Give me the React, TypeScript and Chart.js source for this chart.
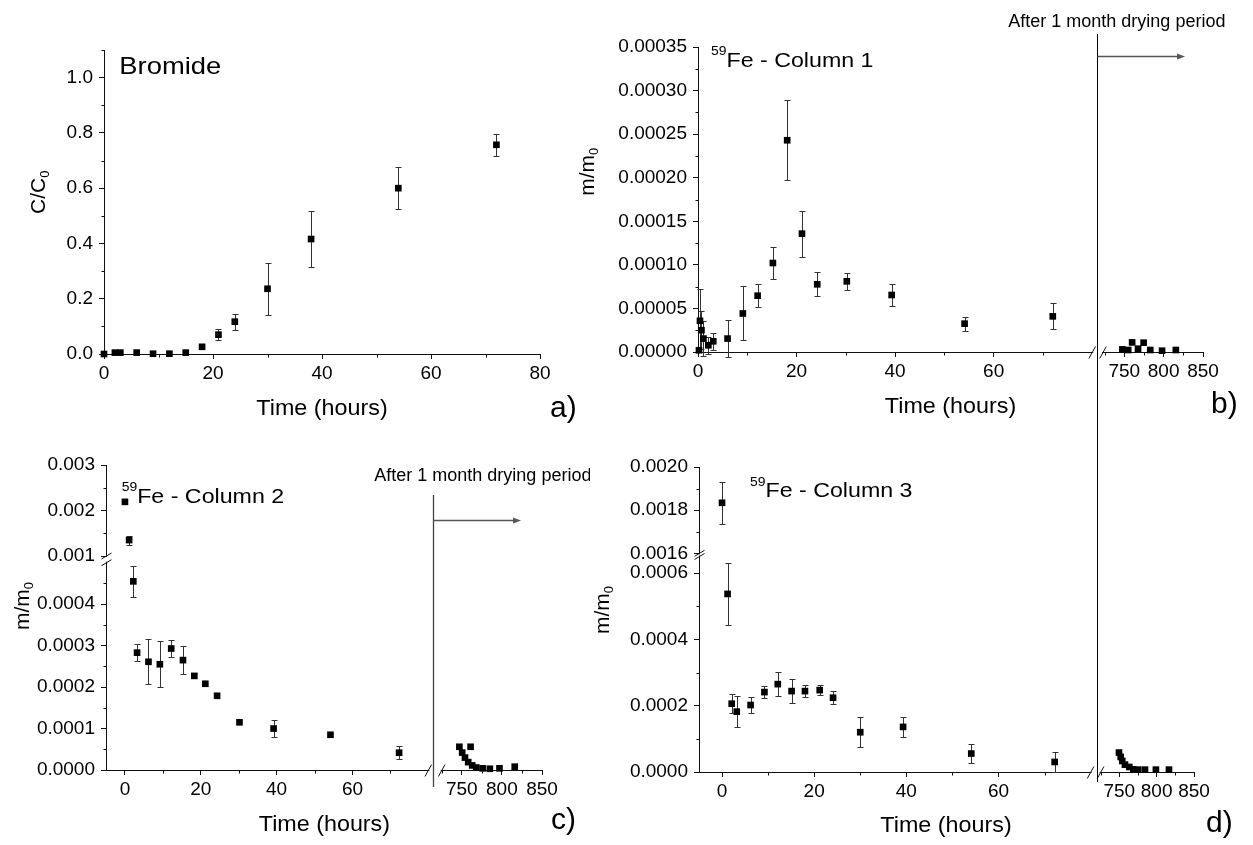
import React, { useEffect, useRef } from 'react';
import { Chart, registerables, LinearScale } from 'chart.js';

Chart.register(...registerables);

const FONT = '"Liberation Sans", Arial, Helvetica, sans-serif';
const AXIS_COLOR = '#111';

// ---------------- DATA ----------------
// a) Bromide
const bromideTime = [0, 2, 3, 6, 9, 12, 15, 18, 21, 24, 30, 38, 54, 72];
const bromideC = [0.0, 0.005, 0.005, 0.005, 0.001, 0.001, 0.005, 0.026, 0.07, 0.117, 0.236, 0.416, 0.6, 0.757];
const bromideErr = [0, 0, 0, 0, 0, 0, 0, 0, 0.02, 0.029, 0.094, 0.1, 0.077, 0.039];

// b) 59Fe - Column 1
const col1Time = [0.2, 0.4, 0.7, 1.1, 2.1, 3.1, 6, 9.1, 12.1, 15.2, 18.1, 21.1, 24.2, 30.2, 39.3, 54.1, 72,
  747.5, 755, 760, 767.5, 774.6, 783, 798, 815.5];
const col1M = [0.000002, 0.0000358, 0.000025, 0.0000154, 0.0000077, 0.0000123, 0.0000154, 0.0000442, 0.0000646,
  0.0001021, 0.000243, 0.0001358, 0.0000777, 0.0000811, 0.0000654, 0.0000325, 0.0000409,
  0.000003, 0.0000023, 0.000011, 0.0000038, 0.0000107, 0.0000023, 0.0000015, 0.0000023];
const col1Err = [0, 0.000036, 0.000022, 0.00002, 0.0000095, 0.0000096, 0.000021, 0.000031, 0.0000135,
  0.0000186, 0.0000457, 0.0000264, 0.0000139, 0.0000096, 0.0000123, 0.000008, 0.0000149,
  0, 0, 0, 0, 0, 0, 0, 0];

// c) 59Fe - Column 2
const col2Time = [0, 1.1, 2.2, 3.2, 6.2, 9.2, 12.2, 15.3, 18.3, 21.2, 24.3, 30.2, 39.2, 54.2, 72.3,
  747, 750.5, 754, 758, 761, 763, 768, 776, 785, 797, 816];
const col2M = [0.00219, 0.00135, 0.000455, 0.000283, 0.000261, 0.000255, 0.000293, 0.000265, 0.000227, 0.000208,
  0.000179, 0.000115, 0.0001, 0.000085, 0.0000417,
  0.000056, 0.000042, 0.00003, 0.000019, 0.000056, 0.000011, 0.000006, 0.000004, 0.000003, 0.000004, 0.000008];
const col2Err = [0, 0.0001, 0.000037, 0.00002, 0.000054, 0.000056, 0.00002, 0.000034, 0, 0,
  0, 0, 0.000021, 0, 0.000016,
  0, 0, 0, 0, 0, 0, 0, 0, 0, 0, 0];

// d) 59Fe - Column 3
const col3Time = [0, 1.2, 2.1, 3.2, 6.2, 9.2, 12.1, 15.1, 18, 21.2, 24.1, 30, 39.3, 54.1, 72.2,
  749.6, 751.9, 754, 757.6, 763.4, 768.7, 775.4, 784.4, 799, 816.5];
const col3M = [0.001834, 0.000537, 0.000206, 0.000182, 0.000202, 0.000241, 0.000265, 0.000244, 0.000244, 0.000247,
  0.000224, 0.00012, 0.000136, 0.0000556, 0.0000303,
  0.0000586, 0.0000455, 0.0000333, 0.0000222, 0.0000152, 0.0000081, 0.0000071, 0.0000071, 0.0000071, 0.0000071];
const col3Err = [0.000097, 0.000094, 0.0000288, 0.0000465, 0.0000242, 0.0000177, 0.0000364, 0.0000364, 0.0000192, 0.0000152,
  0.0000192, 0.0000455, 0.0000293, 0.0000293, 0.0000313,
  0, 0, 0, 0, 0, 0, 0, 0, 0, 0];

// ---------------- TICKS ----------------
const aXTicks = [0, 20, 40, 60, 80];
const aXLabels = ['0', '20', '40', '60', '80'];
const aXMinor = [10, 30, 50, 70];
const aYTicks = [0, 0.2, 0.4, 0.6, 0.8, 1.0];
const aYLabels = ['0.0', '0.2', '0.4', '0.6', '0.8', '1.0'];
const aYMinor = [0.1, 0.3, 0.5, 0.7, 0.9, 1.1];

const feXTicks = [0, 20, 40, 60, 750, 800, 850];
const feXLabels = ['0', '20', '40', '60', '750', '800', '850'];
const feXMinor = [10, 30, 50, 70, 725, 775, 825];

const bYTicks = [0, 0.00005, 0.0001, 0.00015, 0.0002, 0.00025, 0.0003, 0.00035];
const bYLabels = ['0.00000', '0.00005', '0.00010', '0.00015', '0.00020', '0.00025', '0.00030', '0.00035'];
const bYMinor = [0.000025, 0.000075, 0.000125, 0.000175, 0.000225, 0.000275, 0.000325];

const cYTicks = [0, 0.0001, 0.0002, 0.0003, 0.0004, 0.001, 0.002, 0.003];
const cYLabels = ['0.0000', '0.0001', '0.0002', '0.0003', '0.0004', '0.001', '0.002', '0.003'];
const cYMinor = [0.00005, 0.00015, 0.00025, 0.00035, 0.00045, 0.0015, 0.0025];

const dYTicks = [0, 0.0002, 0.0004, 0.0006, 0.0016, 0.0018, 0.002];
const dYLabels = ['0.0000', '0.0002', '0.0004', '0.0006', '0.0016', '0.0018', '0.0020'];
const dYMinor = [0.0001, 0.0003, 0.0005, 0.0017, 0.0019];

// ---------------- BROKEN AXIS SCALE ----------------
type AxisSpec = {
  segMin: number[]; segMax: number[]; segFrom: number[]; segTo: number[];
  major: number[]; minor: number[]; labels: string[];
};
const AXES: Record<string, AxisSpec> = {};

class BrokenScale extends LinearScale {
  static id = 'broken';
  spec(): AxisSpec { return AXES[(this.options as any).brokenKey]; }
  determineDataLimits() {
    const s = this.spec();
    (this as any).min = s.segMin[0];
    (this as any).max = s.segMax[s.segMax.length - 1];
  }
  buildTicks() {
    return this.spec().major.map((v) => ({ value: v }));
  }
  getPixelForValue(value: any) {
    if (value === null || value === undefined || isNaN(value)) return NaN;
    const s = this.spec();
    const n = s.segMin.length;
    let k = n - 1;
    for (let i = 0; i < n; i++) { if (value <= s.segMax[i]) { k = i; break; } }
    let v = value;
    if (k > 0 && v < s.segMin[k]) v = s.segMin[k];
    const dec = s.segFrom[k] + ((v - s.segMin[k]) / (s.segMax[k] - s.segMin[k])) * (s.segTo[k] - s.segFrom[k]);
    return this.getPixelForDecimal(dec);
  }
  getValueForPixel(pixel: number) {
    const s = this.spec();
    const dec = this.getDecimalForPixel(pixel);
    const n = s.segMin.length;
    let k = n - 1;
    for (let i = 0; i < n; i++) { if (dec <= s.segTo[i]) { k = i; break; } }
    return s.segMin[k] + ((dec - s.segFrom[k]) / (s.segTo[k] - s.segFrom[k])) * (s.segMax[k] - s.segMin[k]);
  }
}
Chart.register(BrokenScale as any);

// ---------------- PANEL SPECS ----------------
type Run = { t: string; size: number; dy?: number };
type TextItem = { runs: Run[]; x: number; y: number; align?: 'left' | 'center'; rotate?: boolean; hscale?: number };
type LineItem = { x1: number; y1: number; x2: number; y2: number; color: string; width: number };
type ArrowItem = { x1: number; x2: number; y: number; color: string };

type PanelSpec = {
  id: string; cx: number; cy: number; cw: number; ch: number;
  area: { left: number; right: number; top: number; bottom: number };
  xs: number[]; ys: number[]; errs: number[];
  xAxis: AxisSpec; yAxis: AxisSpec;
  texts: TextItem[]; lines: LineItem[]; arrows: ArrowItem[];
};

const timeTitle = (x: number, y: number): TextItem => ({ runs: [{ t: 'Time (hours)', size: 22 }], x, y, align: 'center', hscale: 1.06 });
const mTitle = (x: number, y: number): TextItem => ({ runs: [{ t: 'm/m', size: 21 }, { t: '0', size: 13, dy: 4 }], x, y, align: 'center', rotate: true });
const feTitle = (col: string, x: number, y: number): TextItem => ({ runs: [{ t: '59', size: 12, dy: -11.5 }, { t: 'Fe - Column ' + col, size: 20 }], x, y, hscale: 1.16 });
const driedText = (x: number, y: number): TextItem => ({ runs: [{ t: 'After 1 month drying period', size: 18 }], x, y });
const letter = (t: string, x: number, y: number): TextItem => ({ runs: [{ t, size: 30 }], x, y });

const panels: PanelSpec[] = [
  {
    id: 'a', cx: 0, cy: 0, cw: 590, ch: 430,
    area: { left: 104, right: 540, top: 50, bottom: 354 },
    xs: bromideTime, ys: bromideC, errs: bromideErr,
    xAxis: { segMin: [0], segMax: [80], segFrom: [0], segTo: [1], major: aXTicks, minor: aXMinor, labels: aXLabels },
    yAxis: { segMin: [0], segMax: [1.1], segFrom: [0], segTo: [1], major: aYTicks, minor: aYMinor, labels: aYLabels },
    texts: [
      { runs: [{ t: 'Bromide', size: 24 }], x: 119.3, y: 74.3, hscale: 1.14 },
      { runs: [{ t: 'C/C', size: 21 }, { t: '0', size: 13, dy: 4 }], x: 44.6, y: 192.3, align: 'center', rotate: true },
      timeTitle(322, 415),
      letter('a)', 550, 416.7),
    ],
    lines: [], arrows: [],
  },
  {
    id: 'b', cx: 570, cy: 0, cw: 683, ch: 430,
    area: { left: 698, right: 1203, top: 47, bottom: 352 },
    xs: col1Time, ys: col1M, errs: col1Err,
    xAxis: { segMin: [0, 723], segMax: [80, 850], segFrom: [0, 0.802], segTo: [0.7806, 1], major: feXTicks, minor: feXMinor, labels: feXLabels },
    yAxis: { segMin: [0], segMax: [0.00035], segFrom: [0], segTo: [1], major: bYTicks, minor: bYMinor, labels: bYLabels },
    texts: [
      feTitle('1', 711, 66.7),
      mTitle(594, 171.7),
      timeTitle(950.5, 413.3),
      letter('b)', 1211, 413.3),
      driedText(1008.3, 26.7),
    ],
    lines: [{ x1: 1097.5, y1: 34, x2: 1097.5, y2: 430, color: '#000', width: 1 }],
    arrows: [{ x1: 1097.5, x2: 1185, y: 56.5, color: '#555' }],
  },
  {
    id: 'c', cx: 0, cy: 430, cw: 590, ch: 415,
    area: { left: 106, right: 542, top: 465, bottom: 770 },
    xs: col2Time, ys: col2M, errs: col2Err,
    xAxis: { segMin: [-5, 725], segMax: [80, 850], segFrom: [0, 0.77], segTo: [0.7392, 1], major: feXTicks, minor: feXMinor, labels: feXLabels },
    yAxis: { segMin: [0, 0.001], segMax: [0.0005, 0.003], segFrom: [0, 0.7016], segTo: [0.6797, 1], major: cYTicks, minor: cYMinor, labels: cYLabels },
    texts: [
      feTitle('2', 121.7, 502.5),
      mTitle(28.7, 606),
      timeTitle(324.4, 830.7),
      letter('c)', 551, 828.5),
      driedText(374.3, 481),
    ],
    lines: [{ x1: 433.5, y1: 495, x2: 433.5, y2: 787, color: '#444', width: 1.3 }],
    arrows: [{ x1: 433.5, x2: 521, y: 520.5, color: '#555' }],
  },
  {
    id: 'd', cx: 570, cy: 430, cw: 683, ch: 415,
    area: { left: 699, right: 1194, top: 467, bottom: 772 },
    xs: col3Time, ys: col3M, errs: col3Err,
    xAxis: { segMin: [-5, 725], segMax: [80, 850], segFrom: [0, 0.8113], segTo: [0.7911, 1], major: feXTicks, minor: feXMinor, labels: feXLabels },
    yAxis: { segMin: [0, 0.0016], segMax: [0.00065, 0.002], segFrom: [0, 0.717], segTo: [0.7066, 1], major: dYTicks, minor: dYMinor, labels: dYLabels },
    texts: [
      feTitle('3', 750, 497),
      mTitle(609, 610),
      timeTitle(946, 831.7),
      letter('d)', 1206, 831.7),
    ],
    lines: [{ x1: 1097.5, y1: 430, x2: 1097.5, y2: 782, color: '#000', width: 1 }],
    arrows: [],
  },
];

// ---------------- DRAW HELPERS ----------------
function drawRuns(ctx: CanvasRenderingContext2D, item: TextItem) {
  ctx.save();
  ctx.translate(item.x, item.y);
  if (item.rotate) ctx.rotate(-Math.PI / 2);
  ctx.scale(item.hscale || 1, 1);
  ctx.textBaseline = 'alphabetic';
  ctx.textAlign = 'left';
  ctx.fillStyle = '#000';
  let total = 0;
  for (const r of item.runs) {
    ctx.font = `${r.size}px ${FONT}`;
    total += ctx.measureText(r.t).width;
  }
  let x = item.align === 'center' ? -total / 2 : 0;
  for (const r of item.runs) {
    ctx.font = `${r.size}px ${FONT}`;
    ctx.fillText(r.t, x, r.dy || 0);
    x += ctx.measureText(r.t).width;
  }
  ctx.restore();
}

function seg(ctx: CanvasRenderingContext2D, x1: number, y1: number, x2: number, y2: number) {
  ctx.beginPath();
  ctx.moveTo(x1, y1);
  ctx.lineTo(x2, y2);
  ctx.stroke();
}

function panelPlugin(p: PanelSpec) {
  return {
    id: 'panel-' + p.id,
    beforeDatasetsDraw(chart: any) {
      const ctx: CanvasRenderingContext2D = chart.ctx;
      const xs = chart.scales.x, ys = chart.scales.y;
      ctx.save();
      ctx.strokeStyle = '#333';
      ctx.lineWidth = 1;
      p.xs.forEach((x, i) => {
        const e = p.errs[i];
        if (!e) return;
        const px = Math.round(xs.getPixelForValue(x)) + 0.5;
        const y1 = Math.round(ys.getPixelForValue(p.ys[i] + e)) + 0.5;
        const y2 = Math.round(ys.getPixelForValue(p.ys[i] - e)) + 0.5;
        seg(ctx, px, y1, px, y2);
        seg(ctx, px - 3, y1, px + 3, y1);
        seg(ctx, px - 3, y2, px + 3, y2);
      });
      ctx.restore();
    },
    afterDraw(chart: any) {
      const ctx: CanvasRenderingContext2D = chart.ctx;
      const xs = chart.scales.x, ys = chart.scales.y;
      const { left: L, bottom: B } = chart.chartArea;
      const xL = Math.round(L) + 0.5, yB = Math.round(B) + 0.5;
      ctx.save();
      // white-out axis gaps at breaks
      ctx.fillStyle = '#fff';
      let xb: number[] = [];
      if (p.xAxis.segMin.length > 1) {
        const p1 = xs.getPixelForValue(p.xAxis.segMax[0]);
        const p2 = xs.getPixelForValue(p.xAxis.segMin[1]);
        ctx.fillRect(p1 + 1, yB - 2, p2 - p1 - 2, 4);
        xb = [p1, p2];
      }
      let yb: number[] = [];
      if (p.yAxis.segMin.length > 1) {
        const q1 = ys.getPixelForValue(p.yAxis.segMax[0]);
        const q2 = ys.getPixelForValue(p.yAxis.segMin[1]);
        ctx.fillRect(xL - 2, q2 + 1, 4, q1 - q2 - 2);
        yb = [q1, q2];
      }
      // minor ticks
      ctx.strokeStyle = AXIS_COLOR;
      ctx.lineWidth = 1;
      p.xAxis.minor.forEach((v) => {
        const px = Math.round(xs.getPixelForValue(v)) + 0.5;
        seg(ctx, px, yB, px, yB + 3);
      });
      p.yAxis.minor.forEach((v) => {
        const py = Math.round(ys.getPixelForValue(v)) + 0.5;
        seg(ctx, xL - 3, py, xL, py);
      });
      // break marks
      xb.forEach((px) => seg(ctx, px - 3.3, yB + 6, px + 3.3, yB - 6));
      yb.forEach((py) => seg(ctx, xL - 5, py + 3, xL + 5, py - 3));
      // page-coordinate annotations
      ctx.translate(-p.cx, -p.cy);
      p.lines.forEach((l) => {
        ctx.strokeStyle = l.color;
        ctx.lineWidth = l.width;
        seg(ctx, l.x1, l.y1, l.x2, l.y2);
      });
      p.arrows.forEach((a) => {
        ctx.strokeStyle = a.color;
        ctx.fillStyle = a.color;
        ctx.lineWidth = 1.5;
        seg(ctx, a.x1, a.y, a.x2 - 6, a.y);
        ctx.beginPath();
        ctx.moveTo(a.x2, a.y);
        ctx.lineTo(a.x2 - 8, a.y - 3);
        ctx.lineTo(a.x2 - 8, a.y + 3);
        ctx.closePath();
        ctx.fill();
      });
      p.texts.forEach((t) => drawRuns(ctx, t));
      ctx.restore();
    },
  };
}

function axisOptions(key: string, position: string, labels: string[], afterFit: (s: any) => void, isX: boolean) {
  return {
    type: 'broken',
    position,
    brokenKey: key,
    afterFit,
    grid: { display: true, drawOnChartArea: false, drawTicks: true, tickLength: 5, color: AXIS_COLOR, tickColor: AXIS_COLOR, lineWidth: 1 },
    border: { display: true, color: AXIS_COLOR, width: 1 },
    ticks: {
      autoSkip: false, maxRotation: 0, minRotation: 0,
      padding: isX ? 3 : 6,
      color: '#000',
      font: { family: FONT, size: 19 },
      callback: (_v: any, i: number) => labels[i],
    },
  };
}

function buildConfig(p: PanelSpec): any {
  const L = p.area.left - p.cx;
  const R = p.area.right - p.cx;
  const T = p.area.top - p.cy;
  const B = p.area.bottom - p.cy;
  AXES[p.id + 'x'] = p.xAxis;
  AXES[p.id + 'y'] = p.yAxis;
  return {
    type: 'scatter',
    data: {
      datasets: [{
        data: p.xs.map((x, i) => ({ x, y: p.ys[i] })),
        pointStyle: 'rect',
        pointRadius: 4.7,
        pointHoverRadius: 4.7,
        backgroundColor: '#000',
        borderColor: '#000',
        borderWidth: 0,
        showLine: false,
        clip: false,
      }],
    },
    options: {
      animation: false,
      responsive: false,
      devicePixelRatio: 1,
      events: [],
      layout: { padding: { left: 0, top: T, right: p.cw - R, bottom: 0 } },
      plugins: { legend: { display: false }, tooltip: { enabled: false }, title: { display: false } },
      scales: {
        x: axisOptions(p.id + 'x', 'bottom', p.xAxis.labels, (s: any) => { s.height = p.ch - B; }, true),
        y: axisOptions(p.id + 'y', 'left', p.yAxis.labels, (s: any) => { s.width = L; }, false),
      },
    },
    plugins: [panelPlugin(p)],
  };
}

function Panel({ spec }: { spec: PanelSpec }) {
  const ref = useRef<HTMLCanvasElement>(null);
  useEffect(() => {
    const chart = new Chart(ref.current as HTMLCanvasElement, buildConfig(spec));
    return () => chart.destroy();
  }, [spec]);
  return (
    <canvas
      ref={ref}
      width={spec.cw}
      height={spec.ch}
      style={{ position: 'absolute', left: spec.cx, top: spec.cy, width: spec.cw, height: spec.ch }}
    />
  );
}

export default function App() {
  return (
    <div style={{ position: 'absolute', left: 0, top: 0, width: 1253, height: 845, background: '#fff', overflow: 'hidden' }}>
      {panels.map((p) => <Panel key={p.id} spec={p} />)}
    </div>
  );
}
